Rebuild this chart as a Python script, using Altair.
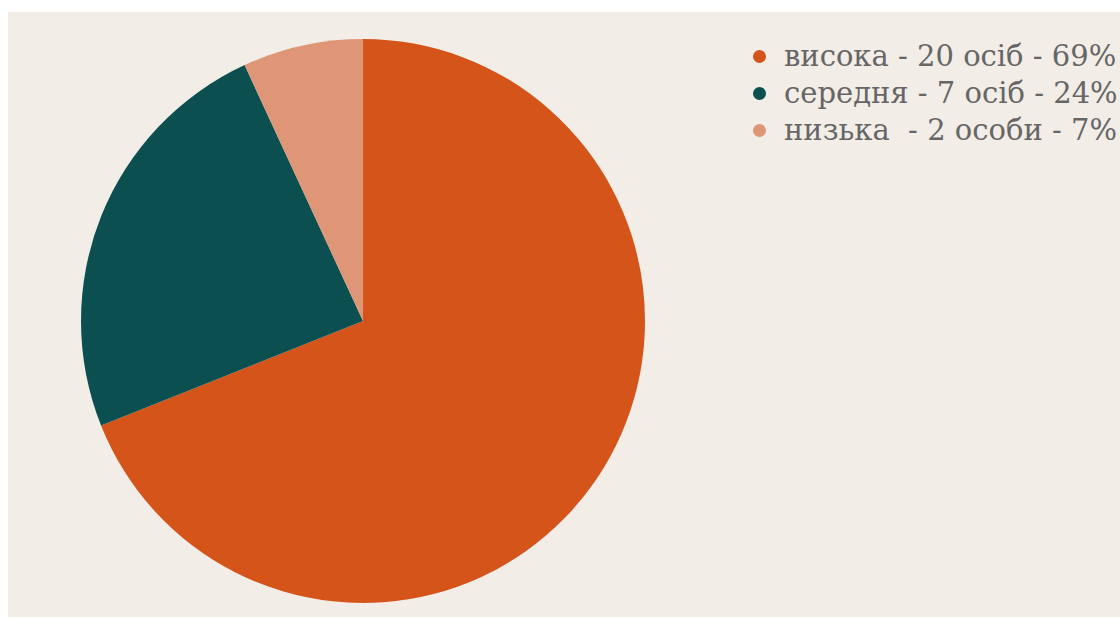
import altair as alt
import pandas as pd

labels = ["висока - 20 осіб - 69%", "середня - 7 осіб - 24%", "низька\u00a0 - 2 особи - 7%"]
counts = [20, 7, 2]
colors = ["#D4541A", "#0B4F50", "#DE9677"]

df = pd.DataFrame({"label": labels, "count": counts, "order": [0, 1, 2]})

chart = alt.Chart(df).mark_arc(stroke=None).encode(
    theta=alt.Theta("count:Q", stack=True),
    order=alt.Order("order:Q"),
    color=alt.Color(
        "label:N",
        sort=labels,
        scale=alt.Scale(domain=labels, range=colors),
        legend=alt.Legend(
            title=None,
            orient="none",
            legendX=737,
            legendY=30,
            symbolType="circle",
            symbolSize=170,
            symbolStrokeWidth=0,
            labelFont="DejaVu Serif",
            labelFontSize=29,
            labelColor="#666666",
            labelLimit=0,
            rowPadding=7,
            labelOffset=10,
        ),
    ),
    x=alt.value(355),
    y=alt.value(309),
    radius=alt.value(282),
).properties(
    width=1112,
    height=605,
    padding={"left": 8, "top": 12, "right": 0, "bottom": 0},
    autosize=alt.AutoSizeParams(type="none"),
).configure(background="white").configure_view(fill="#F2EDE7", stroke=None)

chart.save("out.html", embed_options={"renderer": "svg", "actions": False})
